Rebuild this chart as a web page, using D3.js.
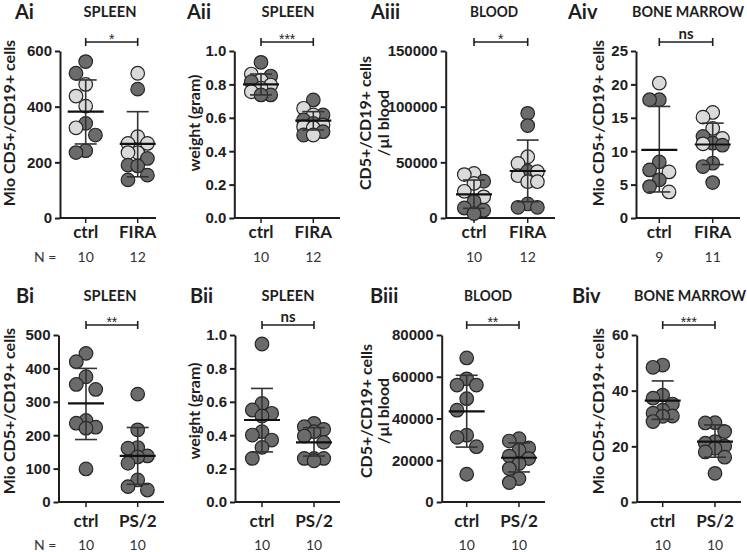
<!DOCTYPE html>
<html><head><meta charset="utf-8">
<script src="https://cdn.jsdelivr.net/npm/d3@7"></script>
<style>
body{margin:0;background:#fff}
svg{display:block}
</style></head>
<body>
<svg id="chart" width="747" height="552"></svg>
<script>
// ---------------- DATA ----------------
const groupsA = ["ctrl", "FIRA"];
const groupsB = ["ctrl", "PS/2"];
const nA = [[10, 12], [10, 12], [10, 12], [9, 11]];
const nB = [[10, 10], [10, 10], [10, 10], [10, 10]];
const panelLabels = ["Ai", "Aii", "Aiii", "Aiv", "Bi", "Bii", "Biii", "Biv"];
const panelTitles = ["SPLEEN", "SPLEEN", "BLOOD", "BONE MARROW", "SPLEEN", "SPLEEN", "BLOOD", "BONE MARROW"];
const yTitles = [["Mio CD5+/CD19+ cells"], ["weight (gram)"], ["CD5+/CD19+ cells", "/µl blood"], ["Mio CD5+/CD19+ cells"],
                 ["Mio CD5+/CD19+ cells"], ["weight (gram)"], ["CD5+/CD19+ cells", "/µl blood"], ["Mio CD5+/CD19+ cells"]];
const significance = ["*", "***", "*", "ns", "**", "ns", "**", "***"];

// y-axis ticks
const ticksAi = [0, 200, 400, 600];
const ticksAii = [0, 0.2, 0.4, 0.6, 0.8, 1.0];
const ticksAiii = [0, 50000, 100000, 150000];
const ticksAiv = [0, 5, 10, 15, 20, 25];
const ticksBi = [0, 100, 200, 300, 400, 500];
const ticksBii = [0, 0.2, 0.4, 0.6, 0.8, 1.0];
const ticksBiii = [0, 20000, 40000, 60000, 80000];
const ticksBiv = [0, 20, 40, 60];

// individual animals: dark (grey) and light dots, per group
const aiCtrlDark = [562, 520, 340, 298, 235, 242];
const aiCtrlLight = [480, 438, 402, 324];
const aiFiraDark = [463, 214, 187, 190, 137, 154];
const aiFiraLight = [520, 292, 268, 268, 235, 235];

const aiiCtrlDark = [0.932, 0.850, 0.816, 0.737, 0.737];
const aiiCtrlLight = [0.862, 0.826, 0.796, 0.777, 0.756];
const aiiFiraDark = [0.707, 0.617, 0.587, 0.567, 0.517, 0.497];
const aiiFiraLight = [0.657, 0.617, 0.557, 0.547, 0.540, 0.497];

const aiiiCtrlDark = [33000, 15000, 9000, 7000, 4000];
const aiiiCtrlLight = [40000, 39000, 31000, 24000, 19000];
const aiiiFiraDark = [94000, 83000, 42000, 12600, 9600, 9600];
const aiiiFiraLight = [55000, 49000, 41600, 38000, 32600, 32600];

const aivCtrlDark = [17.7, 17.7, 8.4, 7.2, 5.7, 4.7];
const aivCtrlLight = [20.2, 6.9, 3.9];
const aivFiraDark = [12.2, 11.2, 10.9, 8.2, 7.7, 5.3];
const aivFiraLight = [15.8, 15.1, 13.4, 11.9, 11.1];

const biCtrl = [445, 420, 375, 352, 337, 244, 236, 224, 221, 99];
const biPs2 = [323, 216, 163, 161, 138, 135, 116, 66, 46, 36];
const biiCtrl = [0.946, 0.59, 0.551, 0.531, 0.515, 0.421, 0.401, 0.371, 0.327, 0.261];
const biiPs2 = [0.471, 0.451, 0.435, 0.421, 0.395, 0.357, 0.261, 0.261, 0.261, 0.247];
const biiiCtrl = [69000, 59000, 56000, 56000, 49500, 44000, 32000, 31000, 26500, 13300];
const biiiPs2 = [30300, 29200, 25900, 24800, 22000, 20800, 18400, 16000, 11200, 9300];
const bivCtrl = [49.2, 48.4, 38.4, 37.3, 35.2, 33, 31.9, 30.9, 30.8, 28.9];
const bivPs2 = [28.5, 28.4, 25.3, 21.7, 21.1, 20.1, 19.3, 18.0, 16.1, 10.3];

// mean and SD bar ends: [ctrl, treated]
const meanAi = [382, 266],        sdHiAi = [496, 382],        sdLoAi = [266, 148];
const meanAii = [0.80, 0.583],    sdHiAii = [0.862, 0.637],   sdLoAii = [0.737, 0.527];
const meanAiii = [21300, 42200],  sdHiAiii = [34100, 70000],  sdLoAiii = [8700, 14600];
const meanAiv = [10.2, 11.0],     sdHiAiv = [16.7, 14.2],     sdLoAiv = [3.9, 8.0];
const meanBi = [295, 138],        sdHiBi = [400, 223],        sdLoBi = [187, 53];
const meanBii = [0.491, 0.357],   sdHiBii = [0.68, 0.445],    sdLoBii = [0.30, 0.275];
const meanBiii = [43400, 21200],  sdHiBiii = [60700, 28300],  sdLoBiii = [26300, 14400];
const meanBiv = [36.4, 21.7],     sdHiBiv = [43.5, 27.7],     sdLoBiv = [29.7, 16.1];

// ---------------- ASSEMBLE ----------------
const pts = (dark, light) => dark.map(v => ({v, c: "dark"})).concat((light || []).map(v => ({v, c: "light"})));
const panelData = [
  {groups: groupsA, n: nA[0], ticks: ticksAi, pts: [pts(aiCtrlDark, aiCtrlLight), pts(aiFiraDark, aiFiraLight)], mean: meanAi, hi: sdHiAi, lo: sdLoAi, fmt: d3.format("d")},
  {groups: groupsA, n: nA[1], ticks: ticksAii, pts: [pts(aiiCtrlDark, aiiCtrlLight), pts(aiiFiraDark, aiiFiraLight)], mean: meanAii, hi: sdHiAii, lo: sdLoAii, fmt: d3.format(".1f")},
  {groups: groupsA, n: nA[2], ticks: ticksAiii, pts: [pts(aiiiCtrlDark, aiiiCtrlLight), pts(aiiiFiraDark, aiiiFiraLight)], mean: meanAiii, hi: sdHiAiii, lo: sdLoAiii, fmt: d3.format("d")},
  {groups: groupsA, n: nA[3], ticks: ticksAiv, pts: [pts(aivCtrlDark, aivCtrlLight), pts(aivFiraDark, aivFiraLight)], mean: meanAiv, hi: sdHiAiv, lo: sdLoAiv, fmt: d3.format("d")},
  {groups: groupsB, n: nB[0], ticks: ticksBi, pts: [pts(biCtrl), pts(biPs2)], mean: meanBi, hi: sdHiBi, lo: sdLoBi, fmt: d3.format("d")},
  {groups: groupsB, n: nB[1], ticks: ticksBii, pts: [pts(biiCtrl), pts(biiPs2)], mean: meanBii, hi: sdHiBii, lo: sdLoBii, fmt: d3.format(".1f")},
  {groups: groupsB, n: nB[2], ticks: ticksBiii, pts: [pts(biiiCtrl), pts(biiiPs2)], mean: meanBiii, hi: sdHiBiii, lo: sdLoBiii, fmt: d3.format("d")},
  {groups: groupsB, n: nB[3], ticks: ticksBiv, pts: [pts(bivCtrl), pts(bivPs2)], mean: meanBiv, hi: sdHiBiv, lo: sdLoBiv, fmt: d3.format("d")}
];

// ---------------- LAYOUT (positions / styles) ----------------
const rowA = {top: 51, bot: 218, bracket: 42, headBase: 19, catBase: 238, nBase: 262, yTitleC: 123};
const rowB = {top: 335, bot: 502, bracket: 325, headBase: 303, catBase: 527, nBase: 550, yTitleC: 411};
const layout = [
  {row: rowA, ax: 60,    c0: 85.7,  c1: 137.7, xEnd: 156, lab: 15,  tc: 110, tw: 53,  yt: [15]},
  {row: rowA, ax: 234.3, c0: 261,   c1: 313.3, xEnd: 340, lab: 187, tc: 288, tw: 53,  yt: [200]},
  {row: rowA, ax: 445.7, c0: 474,   c1: 527.7, xEnd: 555, lab: 371, tc: 494, tw: 48,  yt: [371, 389]},
  {row: rowA, ax: 636,   c0: 659.3, c1: 712.7, xEnd: 740, lab: 568, tc: 688, tw: 112, yt: [604]},
  {row: rowB, ax: 58.5,  c0: 86,    c1: 137.7, xEnd: 164, lab: 16,  tc: 110, tw: 53,  yt: [15]},
  {row: rowB, ax: 235,   c0: 262,   c1: 314,   xEnd: 340, lab: 190, tc: 288, tw: 53,  yt: [200]},
  {row: rowB, ax: 441.7, c0: 466.7, c1: 519,   xEnd: 545, lab: 370, tc: 488, tw: 48,  yt: [372, 389]},
  {row: rowB, ax: 636.7, c0: 662.7, c1: 715,   xEnd: 741, lab: 572, tc: 690, tw: 112, yt: [604]}
];
const R = 6.8, STEP = 9.7, MIN_D = 12;
const DARK = "#6b6b6b", LIGHT = "#dadada", INK = "#1e1e1e";
const fSans = "'Liberation Sans', Arial, sans-serif";
const fCal = "Lato, 'Open Sans', sans-serif";

const svg = d3.select("#chart");

// simple deterministic column layout: centre, left, right; otherwise least-crowded of those
function swarm(values, scale, cx) {
  const sorted = values.slice().sort((a, b) => b.v - a.v);
  const placed = [];
  const offs = [0, -1, 1];
  sorted.forEach(p => {
    const y = scale(p.v);
    let best = null, bestD = -1;
    for (const o of offs) {
      const x = cx + o * STEP;
      const d = placed.length ? d3.min(placed, q => Math.hypot(q.x - x, q.y - y)) : Infinity;
      if (d >= MIN_D) { best = x; break; }
      if (d > bestD + 0.5) { bestD = d; best = x; }
    }
    placed.push({x: best, y, c: p.c});
  });
  return placed;
}

panelData.forEach((pd, i) => {
  const L = layout[i], row = L.row;
  const g = svg.append("g");
  const y = d3.scaleLinear().domain([0, d3.max(pd.ticks)]).range([row.bot, row.top]);
  const x = d3.scalePoint().domain(pd.groups).range([L.c0, L.c1]);

  // panel label and title
  g.append("text").attr("x", L.lab).attr("y", row.headBase).text(panelLabels[i])
    .attr("font-family", fCal).attr("font-weight", 700).attr("font-size", 20).attr("fill", INK);
  g.append("text").attr("x", L.tc).attr("y", row.headBase - 2).attr("text-anchor", "middle").text(panelTitles[i])
    .attr("textLength", L.tw).attr("lengthAdjust", "spacingAndGlyphs")
    .attr("font-family", fCal).attr("font-weight", 700).attr("font-size", 14.5).attr("fill", INK);

  // y axis
  const yAxis = g.append("g").attr("transform", `translate(${L.ax},0)`)
    .call(d3.axisLeft(y).tickValues(pd.ticks).tickFormat(pd.fmt).tickSize(5).tickSizeOuter(0).tickPadding(3));
  yAxis.select(".domain").attr("stroke", INK).attr("stroke-width", 2);
  yAxis.selectAll(".tick line").attr("stroke", INK).attr("stroke-width", 2);
  yAxis.selectAll(".tick text").attr("font-family", fSans).attr("font-weight", 700).attr("font-size", 15).attr("fill", INK);

  // x axis
  const xAxis = g.append("g").attr("transform", `translate(0,${row.bot})`);
  xAxis.append("line").attr("x1", L.ax).attr("x2", L.xEnd).attr("stroke", INK).attr("stroke-width", 2);
  xAxis.selectAll("line.t").data(pd.groups).join("line").attr("class", "t")
    .attr("x1", d => x(d)).attr("x2", d => x(d)).attr("y1", 0).attr("y2", 5).attr("stroke", INK).attr("stroke-width", 1.5);
  g.selectAll("text.cat").data(pd.groups).join("text").attr("class", "cat")
    .attr("x", d => x(d)).attr("y", row.catBase).attr("text-anchor", "middle").text(d => d)
    .attr("font-family", fCal).attr("font-weight", 700).attr("font-size", 17).attr("fill", INK);

  // N row
  g.selectAll("text.n").data(pd.n).join("text").attr("class", "n")
    .attr("x", (d, k) => x(pd.groups[k])).attr("y", row.nBase).attr("text-anchor", "middle").text(d => d)
    .attr("font-family", fCal).attr("font-size", 14).attr("fill", "#333");
  if (i === 0 || i === 4) {
    g.append("text").attr("x", 34).attr("y", row.nBase).text("N =")
      .attr("font-family", fCal).attr("font-size", 14).attr("fill", "#333");
  }

  // y title
  yTitles[i].forEach((t, k) => {
    g.append("text").attr("transform", `translate(${L.yt[k]},${row.yTitleC}) rotate(-90)`)
      .attr("text-anchor", "middle").text(t)
      .attr("font-family", fCal).attr("font-weight", 700).attr("font-size", 16).attr("fill", INK);
  });

  // dots
  pd.groups.forEach((grp, k) => {
    const placed = swarm(pd.pts[k], y, x(grp));
    g.selectAll(null).data(placed).join("circle")
      .attr("cx", d => d.x).attr("cy", d => d.y).attr("r", R)
      .attr("fill", d => d.c === "dark" ? DARK : LIGHT)
      .attr("stroke", "#262626").attr("stroke-width", 1.2);
  });

  // mean & SD
  pd.groups.forEach((grp, k) => {
    const cx = x(grp);
    g.append("line").attr("x1", cx).attr("x2", cx).attr("y1", y(pd.hi[k])).attr("y2", y(pd.lo[k]))
      .attr("stroke", "#333").attr("stroke-width", 1.6);
    [pd.hi[k], pd.lo[k]].forEach(v => {
      g.append("line").attr("x1", cx - 11).attr("x2", cx + 11).attr("y1", y(v)).attr("y2", y(v))
        .attr("stroke", "#333").attr("stroke-width", 1.6);
    });
    g.append("line").attr("x1", cx - 18).attr("x2", cx + 18).attr("y1", y(pd.mean[k])).attr("y2", y(pd.mean[k]))
      .attr("stroke", "#111").attr("stroke-width", 2.2);
  });

  // significance bracket
  const by = row.bracket;
  const x0 = x(pd.groups[0]), x1 = x(pd.groups[1]);
  g.append("line").attr("x1", x0).attr("x2", x1).attr("y1", by).attr("y2", by).attr("stroke", INK).attr("stroke-width", 1.6);
  [x0, x1].forEach(xx => g.append("line").attr("x1", xx).attr("x2", xx).attr("y1", by - 4).attr("y2", by + 4)
    .attr("stroke", INK).attr("stroke-width", 1.6));
  const s = significance[i];
  g.append("text").attr("x", (x0 + x1) / 2).attr("y", s === "ns" ? by - 3 : by + 2).attr("text-anchor", "middle").text(s)
    .attr("font-family", s === "ns" ? fCal : fSans).attr("font-weight", s === "ns" ? 700 : 400)
    .attr("font-size", s === "ns" ? 15 : 14).attr("fill", INK);
});
</script>
</body></html>
